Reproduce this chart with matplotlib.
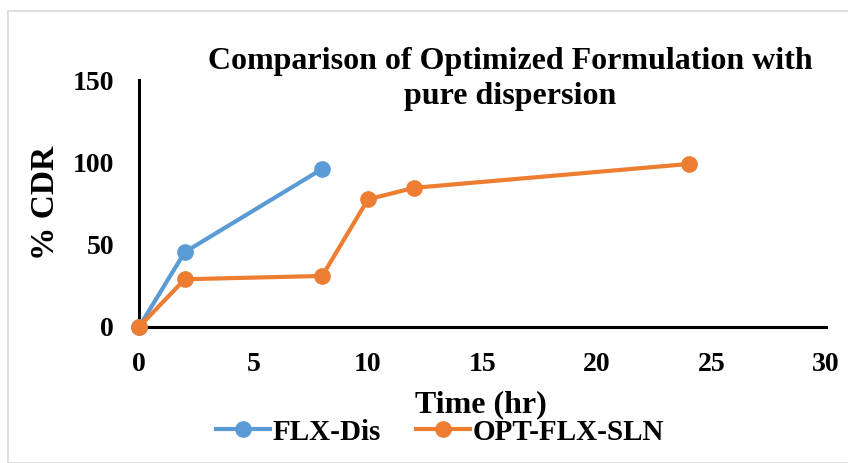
import matplotlib.pyplot as plt
from matplotlib.patches import Rectangle

# data
time_dis = [0, 2, 8]
cdr_dis = [0, 45.5, 96]
time_sln = [0, 2, 8, 10, 12, 24]
cdr_sln = [0, 29, 31, 77.5, 84.5, 99]

x_ticks = [0, 5, 10, 15, 20, 25, 30]
y_ticks = [0, 50, 100, 150]

BLUE = "#5B9BD5"
ORANGE = "#ED7D31"

plt.rcParams["font.family"] = ["Liberation Serif", "DejaVu Serif"]
plt.rcParams["font.weight"] = "bold"

W, H = 848, 463
fig = plt.figure(figsize=(W / 100, H / 100), dpi=100)
ax = fig.add_axes([139 / W, 1 - 327 / H, (826 - 139) / W, (327 - 80) / H])

# light chart-area frame like the spreadsheet export
fig.patches.append(Rectangle((8 / W, 0), 1, 1 - 11 / H, transform=fig.transFigure,
                             fill=False, edgecolor="#D9D9D9", linewidth=1.2))

ax.plot(time_dis, cdr_dis, color=BLUE, lw=3, marker="o", ms=11, label="FLX-Dis",
        clip_on=False, zorder=3)
ax.plot(time_sln, cdr_sln, color=ORANGE, lw=3, marker="o", ms=11, label="OPT-FLX-SLN",
        clip_on=False, zorder=4)

ax.set_xlim(0, 30)
ax.set_ylim(0, 150)
ax.set_xticks(x_ticks)
ax.set_yticks(y_ticks)
ax.tick_params(length=0, labelsize=20)
ax.tick_params(axis="x", pad=18)
ax.tick_params(axis="y", pad=18)
for lab in ax.get_xticklabels() + ax.get_yticklabels():
    lab.set_fontweight("bold")

for s in ["top", "right"]:
    ax.spines[s].set_visible(False)
for s in ["left", "bottom"]:
    ax.spines[s].set_linewidth(2.2)

fig.text(481 / W, 1 - 405 / H, "Time (hr)", ha="center", va="center",
         fontsize=23, fontweight="bold")
fig.text(46 / W, 1 - 203 / H, "% CDR", ha="center", va="center", rotation=90,
         fontsize=24, fontweight="bold")

fig.text(510 / W, 1 - 79 / H, "Comparison of Optimized Formulation with\npure dispersion",
         ha="center", va="center", fontsize=23, fontweight="bold", linespacing=1.25)

fig.legend(loc="center", bbox_to_anchor=(440 / W, 1 - 432 / H), ncol=2, frameon=False,
           prop={"size": 21, "weight": "bold"}, handlelength=1.85, columnspacing=1.2,
           handletextpad=0.1, borderpad=0, borderaxespad=0)

fig.savefig("out.png", dpi=100)
